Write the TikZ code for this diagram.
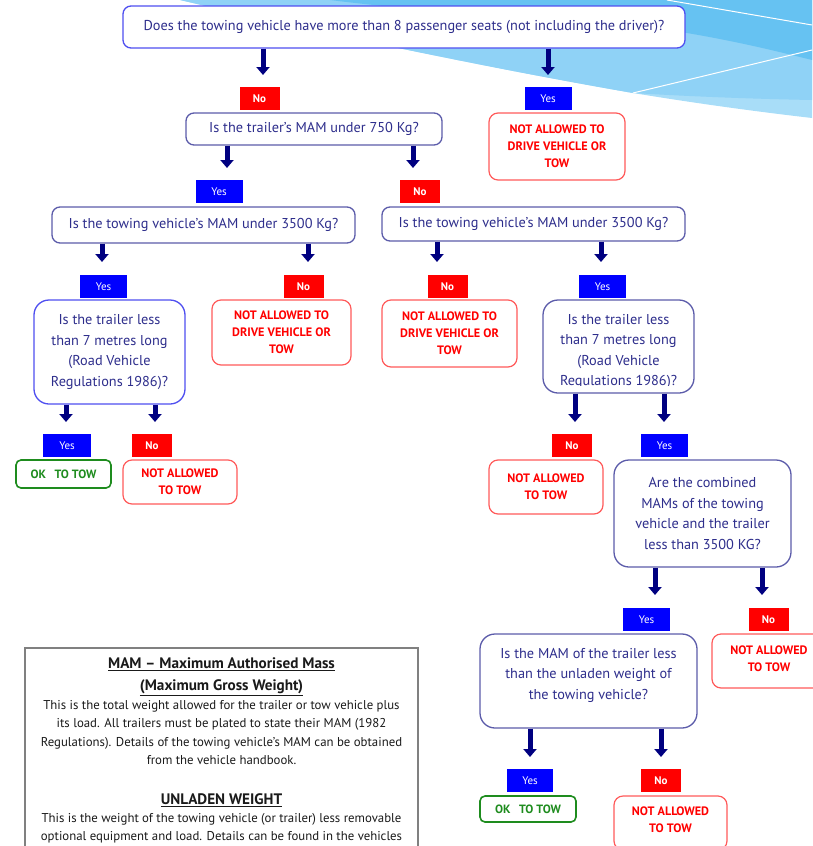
\documentclass[tikz,border=0pt]{standalone}
\usepackage{fontspec}
\setmainfont{PT Sans}
\usetikzlibrary{arrows.meta}
\definecolor{navy}{HTML}{000080}
\definecolor{qtext}{HTML}{2E2E8C}
\definecolor{qbright}{HTML}{4F4FF0}
\definecolor{qmuted}{HTML}{5C5CAA}
\definecolor{nared}{HTML}{FF5A5A}
\definecolor{okgreen}{HTML}{1E8C1E}
\definecolor{yesblue}{HTML}{0000FF}
\definecolor{bgA}{HTML}{A8DDF8}
\definecolor{bgB}{HTML}{8FD2F6}
\definecolor{bgC}{HTML}{66C2F2}
\definecolor{legendgray}{HTML}{808080}
\definecolor{legendtext}{HTML}{1A1A1A}
\begin{document}
\begin{tikzpicture}[x=1pt,y=-1pt,
  qbox/.style={draw=qmuted, line width=1.3pt, fill=white, rounded corners=8pt, text=qtext,
    font=\fontsize{14.3}{20.5}\selectfont, align=center, inner sep=0pt},
  qtxt/.style={text=qtext, font=\fontsize{14.3}{20.5}\selectfont, align=center, inner sep=0pt},
  nafont/.style={text=red, font=\bfseries\fontsize{12.2}{17}\selectfont, align=center},
  nabox/.style={draw=nared, line width=1.2pt, fill=white, rounded corners=9pt, nafont, inner sep=0pt},
  okbox/.style={draw=okgreen, line width=1.6pt, fill=white, rounded corners=5pt, text=okgreen,
    font=\bfseries\fontsize{12}{13}\selectfont, align=center, inner sep=0pt},
  yeslab/.style={fill=yesblue, text=white, font=\fontsize{11}{12}\selectfont,
    minimum width=47pt, minimum height=23pt, inner sep=0pt},
  nolab/.style={fill=red, text=white, font=\bfseries\fontsize{11}{12}\selectfont,
    minimum width=40pt, minimum height=23pt, inner sep=0pt},
  arr/.style={draw=navy, line width=5pt, -{Triangle[width=13pt,length=8pt]}},
  legtxt/.style={text=legendtext, font=\fontsize{12.8}{15}\selectfont, anchor=base, inner sep=0pt},
  leghead/.style={text=legendtext, font=\bfseries\fontsize{15.2}{17}\selectfont, anchor=base, inner sep=0pt}
]
\useasboundingbox (0,0) rectangle (812,846);
% background decoration
\fill[bgA] (180,0) .. controls (330,35) and (500,70) .. (633,93)
  .. controls (700,104) and (760,112) .. (812,118) -- (812,0) -- cycle;
\fill[bgB] (180,0) .. controls (330,35) and (500,70) .. (633,93)
  .. controls (700,97) and (760,99) .. (812,100) -- (812,0) -- cycle;
\fill[bgC] (330,0) .. controls (450,15) and (600,22) .. (687,33)
  .. controls (740,42) and (780,52) .. (812,60) -- (812,0) -- cycle;
\draw[white, line width=1pt] (667,0) -- (812,25);
\draw[white, line width=1pt] (633,93) -- (812,50);

% level 1
\node[qbox, draw=qbright, minimum width=562pt, minimum height=42pt] (q1) at (404,27)
  {Does the towing vehicle have more than 8 passenger seats (not including the driver)?};
\coordinate (t1) at (263,75);
\coordinate (t2) at (548,75);
\draw[arr] (q1.south -| t1) -- (t1);
\draw[arr] (q1.south -| t2) -- (t2);
\node[nolab] (n1) at (259.5,98.5) {No};
\node[yeslab] (y1) at (548,98.5) {Yes};

% level 2
\node[qbox, minimum width=256pt, minimum height=32pt] (q2) at (314,129) {Is the trailer’s MAM under 750 Kg?};
\node[nabox, minimum width=136pt, minimum height=67pt] (na1) at (557,146.5)
  {NOT ALLOWED TO\\DRIVE VEHICLE OR\\TOW};
\coordinate (t3) at (227,168);
\coordinate (t4) at (413,168);
\draw[arr] (q2.south -| t3) -- (t3);
\draw[arr] (q2.south -| t4) -- (t4);
\node[yeslab] (y2) at (219,191.5) {Yes};
\node[nolab] (n2) at (420,191.5) {No};

% level 3
\node[qbox, minimum width=303pt, minimum height=36pt] (q3l) at (203.5,225) {Is the towing vehicle’s MAM under 3500 Kg?};
\node[qbox, minimum width=303pt, minimum height=34pt] (q3r) at (533.5,224) {Is the towing vehicle’s MAM under 3500 Kg?};
\coordinate (t5) at (102,262);
\coordinate (t6) at (308,262);
\coordinate (t7) at (437,262);
\coordinate (t8) at (601,262);
\draw[arr] (q3l.south -| t5) -- (t5);
\draw[arr] (q3l.south -| t6) -- (t6);
\draw[arr] (q3r.south -| t7) -- (t7);
\draw[arr] (q3r.south -| t8) -- (t8);
\node[yeslab] (y3) at (103.5,286.5) {Yes};
\node[nolab] (n3) at (303.5,286.5) {No};
\node[nolab] (n4) at (447.5,286.5) {No};
\node[yeslab] (y4) at (602.5,286.5) {Yes};

% level 4
\node[qbox, draw=qbright, rounded corners=15pt, minimum width=151pt, minimum height=104pt] (q4l) at (109.5,352)
  {Is the trailer less\\than 7 metres long\\(Road Vehicle\\Regulations 1986)?};
\node[nabox, minimum width=139pt, minimum height=65pt] (na2) at (281.5,332.5)
  {NOT ALLOWED TO\\DRIVE VEHICLE OR\\TOW};
\node[nabox, minimum width=135pt, minimum height=67pt] (na3) at (449.5,333.5)
  {NOT ALLOWED TO\\DRIVE VEHICLE OR\\TOW};
\node[qbox, rounded corners=15pt, minimum width=151pt, minimum height=93pt] (q4r) at (618.5,346.5) {};
\begin{scope}
  \clip (q4r.north west) rectangle (694,385);
  \node[qtxt] (q4rt) at (618.5,351.5) {Is the trailer less\\than 7 metres long\\(Road Vehicle\\Regulations 1986)?};
\end{scope}
\coordinate (t9) at (66,422);
\coordinate (t10) at (155,422);
\coordinate (t11) at (575,422);
\coordinate (t12) at (664,422);
\draw[arr] (q4l.south -| t9) -- (t9);
\draw[arr] (q4l.south -| t10) -- (t10);
\draw[arr] (q4r.south -| t11) -- (t11);
\draw[arr] (q4r.south -| t12) -- (t12);
\node[yeslab, minimum width=48pt] (y5) at (67,445.5) {Yes};
\node[nolab] (n5) at (152,445.5) {No};
\node[nolab] (n6) at (572,445.5) {No};
\node[yeslab] (y6) at (664.5,445.5) {Yes};

% level 5
\node[okbox, minimum width=95pt, minimum height=28pt] (ok1) at (63.5,474) {OK\hspace{0.7em}TO TOW};
\node[nabox, minimum width=114pt, minimum height=44pt] (na4) at (180,482) {NOT ALLOWED\\TO TOW};
\node[nabox, minimum width=114pt, minimum height=54pt] (na5) at (546,487) {NOT ALLOWED\\TO TOW};
\node[qbox, rounded corners=15pt, minimum width=177pt, minimum height=107pt] (q5) at (702.5,513.5)
  {Are the combined\\MAMs of the towing\\vehicle and the trailer\\less than 3500 KG?};
\coordinate (t13) at (655,595);
\coordinate (t14) at (762,595);
\draw[arr] (q5.south -| t13) -- (t13);
\draw[arr] (q5.south -| t14) -- (t14);
\node[yeslab] (y7) at (646.5,619.5) {Yes};
\node[nolab] (n7) at (768.5,619.5) {No};

% level 6
\node[qbox, rounded corners=15pt, minimum width=217pt, minimum height=94pt] (q6) at (588.5,681) {};
\node[qtxt] (q6t) at (588.5,675) {Is the MAM of the trailer less\\than the unladen weight of\\the towing vehicle?};
\node[nabox, minimum width=114pt, minimum height=54pt] (na6) at (769,661) {};
\node[nafont, inner sep=0pt] (na6t) at (769,658.5) {NOT ALLOWED\\TO TOW};
\coordinate (t15) at (530,757);
\coordinate (t16) at (661,757);
\draw[arr] (q6.south -| t15) -- (t15);
\draw[arr] (q6.south -| t16) -- (t16);
\node[yeslab, minimum width=46pt] (y8) at (530,780.5) {Yes};
\node[nolab] (n8) at (661,780.5) {No};
\node[okbox, minimum width=96pt, minimum height=26pt] (ok2) at (528,809) {OK\hspace{0.7em}TO TOW};
\node[nabox, minimum width=113pt, minimum height=54pt] (na7) at (670.5,823) {};
\node[nafont, inner sep=0pt] (na7t) at (670.5,819.5) {NOT ALLOWED\\TO TOW};

% legend
\draw[legendgray, line width=1.3pt, fill=white] (25,648) rectangle (418,870);
\node[leghead] (lh1) at (221.5,668.5) {\underline{MAM – Maximum Authorised Mass}};
\node[leghead] (lh2) at (221.5,690.5) {\underline{(Maximum Gross Weight)}};
\node[legtxt] (l1) at (221.5,709.5) {This is the total weight allowed for the trailer or tow vehicle plus};
\node[legtxt] (l2) at (221.5,727.5) {its load. All trailers must be plated to state their MAM (1982};
\node[legtxt] (l3) at (221.5,746.5) {Regulations). Details of the towing vehicle’s MAM can be obtained};
\node[legtxt] (l4) at (221.5,764.5) {from the vehicle handbook.};
\node[leghead] (lh3) at (221.5,804.5) {\underline{UNLADEN WEIGHT}};
\node[legtxt] (l5) at (221.5,822.5) {This is the weight of the towing vehicle (or trailer) less removable};
\node[legtxt] (l6) at (221.5,840.5) {optional equipment and load. Details can be found in the vehicles};
\end{tikzpicture}
\end{document}
